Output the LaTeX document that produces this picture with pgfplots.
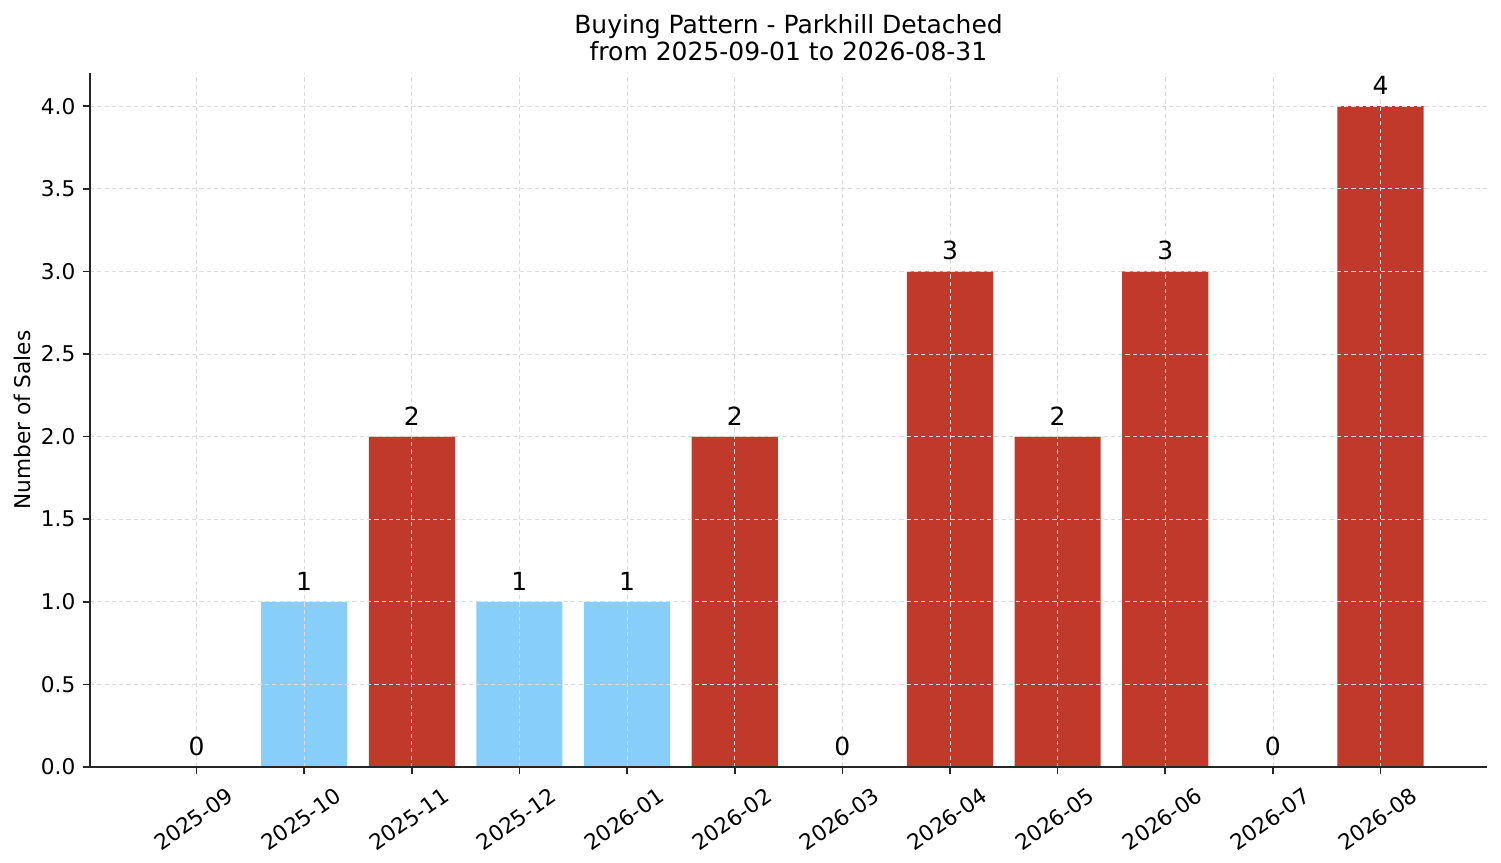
\documentclass[border=0pt]{standalone}
\usepackage{pgfplots}
\pgfplotsset{compat=1.18}
\usepackage{fontspec}
\setmainfont{DejaVu Sans}
\definecolor{barblue}{HTML}{87CEFA}
\definecolor{barred}{HTML}{C0392B}
\definecolor{spine}{HTML}{262626}
\begin{document}
\begin{tikzpicture}
\path[use as bounding box] (0,0) rectangle (720.5pt,414.2pt);
\begin{axis}[
    at={(43.2pt,46pt)}, anchor=south west,
    scale only axis, width=670.6pt, height=333.1pt,
    xmin=-0.99, xmax=11.99, ymin=0, ymax=4.2,
    axis x line*=bottom, axis y line*=left,
    axis line style={-, line width=0.8pt, draw=spine},
    tick align=outside, major tick length=3.5pt,
    every tick/.style={draw=spine, line width=0.8pt},
    xtick={0,...,11},
    xticklabels={2025-09,2025-10,2025-11,2025-12,2026-01,2026-02,2026-03,2026-04,2026-05,2026-06,2026-07,2026-08},
    xticklabel style={xshift=15pt, yshift=-1pt, rotate=35, anchor=north east, font=\fontsize{10.4}{12}\selectfont},
    ytick={0,0.5,...,4.0},
    yticklabel style={font=\fontsize{10.4}{12}\selectfont, /pgf/number format/.cd, fixed, fixed zerofill, precision=1, assume math mode=true},
    grid=major,
    major grid style={dash pattern=on 2pt off 1.5pt, draw=gray!28, line width=0.35pt},
    axis on top,
    ylabel={Number of Sales},
    every axis y label/.style={at={(axis description cs:0,0.5)}, xshift=-32.6pt, rotate=90, anchor=center, font=\fontsize{10.4}{12}\selectfont},
    title={Buying Pattern - Parkhill Detached\\from 2025-09-01 to 2026-08-31},
    title style={at={(axis description cs:0.5,1)}, anchor=center, yshift=11pt, align=center, font=\fontsize{12}{13.4}\selectfont},
    ybar, bar width=0.8, bar shift=0pt,
    nodes near coords,
    every node near coord/.style={font=\fontsize{12}{14}\selectfont, black, yshift=2pt, /pgf/number format/assume math mode=true},
]
\addplot[fill=barred, draw=none] coordinates {(0,0) (2,2) (5,2) (6,0) (7,3) (8,2) (9,3) (10,0) (11,4)};
\addplot[fill=barblue, draw=none] coordinates {(1,1) (3,1) (4,1)};
\end{axis}
\end{tikzpicture}
\end{document}
